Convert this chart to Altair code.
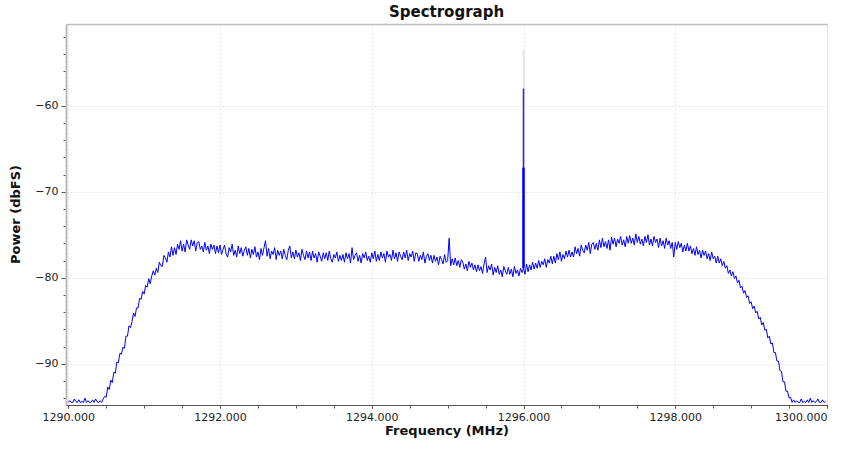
import altair as alt
import pandas as pd

# ---- data ----
F_START = 1290.0
F_STEP = 0.02
POWER = [
    -94.5, -94.3, -94.5, -94.5, -94.1, -94.4, -94.5, -94.2, -94.5, -94.4,
    -94.5, -94.0, -94.5, -94.3, -94.5, -94.5, -94.2, -94.5, -94.1, -94.4,
    -94.5, -94.3, -94.5, -94.1, -93.8, -93.9, -92.7, -93.0, -91.9, -92.2,
    -91.0, -91.1, -89.8, -89.9, -88.8, -88.9, -88.1, -88.2, -86.8, -86.8,
    -85.6, -85.8, -85.1, -84.1, -84.5, -83.5, -83.5, -82.4, -82.5, -81.6,
    -81.9, -80.9, -81.1, -80.1, -80.7, -79.8, -79.2, -79.7, -78.9, -79.4,
    -78.2, -78.6, -78.7, -77.4, -77.7, -78.2, -77.0, -77.6, -76.4, -77.4,
    -76.5, -77.3, -76.1, -76.7, -75.7, -76.9, -76.1, -77.0, -75.6, -76.2,
    -76.7, -75.6, -76.3, -75.7, -76.9, -75.9, -75.8, -76.7, -76.3, -77.0,
    -75.9, -76.8, -76.3, -77.2, -76.1, -76.7, -76.2, -77.2, -76.3, -77.1,
    -76.2, -77.3, -76.7, -76.2, -77.2, -77.6, -76.5, -77.0, -76.1, -77.4,
    -76.8, -77.6, -76.3, -77.2, -76.5, -77.5, -76.8, -76.4, -77.4, -76.6,
    -77.7, -76.7, -77.3, -76.4, -77.6, -77.0, -77.9, -76.6, -77.4, -76.5,
    -75.7, -77.5, -76.6, -77.8, -76.9, -77.3, -76.5, -77.9, -76.8, -77.4,
    -76.9, -77.8, -76.7, -77.4, -77.9, -76.8, -76.3, -77.7, -77.0, -77.8,
    -76.8, -77.6, -77.1, -78.0, -76.7, -77.4, -77.9, -76.9, -77.7, -77.0,
    -78.0, -76.9, -77.7, -77.2, -78.2, -77.0, -77.5, -78.1, -77.1, -77.8,
    -77.1, -78.0, -76.9, -77.8, -78.2, -77.3, -77.7, -77.0, -78.1, -77.4,
    -78.0, -77.3, -78.2, -77.1, -77.8, -77.2, -78.3, -76.5, -77.9, -77.4,
    -77.1, -78.1, -77.4, -78.3, -77.2, -77.7, -77.0, -78.0, -77.5, -78.2,
    -77.1, -77.8, -76.9, -78.1, -77.3, -78.0, -77.0, -77.7, -77.2, -78.2,
    -76.9, -77.6, -77.3, -78.0, -76.8, -77.8, -77.1, -78.1, -77.0, -77.5,
    -77.9, -77.0, -77.7, -76.8, -78.0, -77.2, -77.6, -76.9, -78.1, -77.1,
    -77.2, -78.1, -77.4, -77.9, -77.0, -78.3, -77.5, -77.2, -78.0, -77.4,
    -78.3, -77.4, -78.1, -77.6, -78.5, -77.5, -77.9, -78.4, -77.3, -78.2,
    -78.0, -75.4, -78.6, -77.8, -78.5, -77.7, -78.6, -78.0, -78.8, -77.9,
    -78.2, -79.0, -78.4, -79.2, -78.1, -78.8, -78.3, -79.1, -78.5, -79.3,
    -78.5, -79.2, -78.7, -79.5, -78.4, -77.6, -79.4, -78.6, -79.1, -78.4,
    -79.7, -78.8, -79.4, -78.6, -79.6, -79.1, -79.9, -78.7, -79.2, -79.6,
    -78.8, -79.6, -79.0, -79.9, -78.7, -79.5, -79.1, -79.8, -78.9, -79.4,
    -78.9, -79.6, -78.4, -79.3, -78.5, -79.1, -78.2, -79.0, -78.3, -78.9,
    -78.0, -78.8, -78.1, -78.5, -77.8, -78.8, -77.9, -78.3, -77.5, -78.4,
    -77.5, -78.3, -77.2, -77.9, -77.0, -78.1, -77.3, -77.8, -76.9, -77.6,
    -76.8, -77.6, -77.0, -77.6, -76.4, -77.2, -76.6, -77.5, -76.2, -76.8,
    -77.1, -76.2, -76.8, -75.9, -77.2, -76.1, -75.9, -76.7, -76.0, -76.8,
    -75.6, -76.5, -75.4, -76.4, -75.8, -76.6, -75.6, -76.8, -75.3, -76.1,
    -75.4, -76.4, -75.5, -76.0, -75.2, -76.2, -75.6, -76.4, -75.2, -76.0,
    -75.1, -76.0, -75.4, -76.2, -74.9, -75.9, -75.2, -76.1, -75.5, -76.3,
    -75.2, -75.9, -75.0, -76.2, -75.5, -76.3, -75.2, -75.9, -75.5, -76.5,
    -75.4, -76.3, -75.7, -76.6, -75.4, -76.2, -75.7, -76.6, -75.9, -77.6,
    -75.9, -76.7, -75.8, -76.5, -76.0, -77.0, -76.2, -76.9, -76.0, -76.9,
    -76.3, -77.2, -76.6, -77.4, -76.4, -77.3, -76.8, -77.7, -76.8, -77.4,
    -76.9, -77.8, -77.2, -78.0, -77.0, -77.8, -77.5, -78.3, -77.5, -78.3,
    -77.8, -78.6, -78.1, -78.9, -78.6, -79.5, -79.1, -79.8, -79.3, -80.1,
    -79.8, -80.6, -80.3, -81.2, -81.0, -81.8, -81.5, -82.3, -82.1, -83.0,
    -82.8, -83.6, -83.3, -84.1, -83.9, -84.8, -84.6, -85.5, -85.2, -86.1,
    -86.0, -87.0, -86.8, -87.7, -87.6, -88.7, -88.7, -89.7, -89.7, -90.8,
    -90.9, -92.1, -92.1, -93.2, -93.2, -94.0, -93.9, -94.5, -94.2, -94.5,
    -94.3, -94.5, -94.5, -94.1, -94.5, -94.4, -94.5, -94.2, -94.5, -94.0,
    -94.5, -94.3, -94.5, -94.4, -94.1, -94.5, -94.5, -94.2, -94.5, -94.4,
]
SPIKE_FREQ = 1296.0
SPIKE_BASE = -78.9
SPIKE_TOPS = [-53.5, -58.0, -67.2]

X_MAJOR = [1290, 1292, 1294, 1296, 1298, 1300]
X_MINOR = [1290 + 0.5 * k for k in range(21)]
Y_MAJOR = [-90, -80, -70, -60]
Y_MINOR = list(range(-94, -50, 2))

freqs = [round(F_START + F_STEP * i, 4) for i in range(len(POWER))]
df = pd.DataFrame({"f": freqs, "p": POWER})
spike = pd.DataFrame({"f": [SPIKE_FREQ] * 3, "lo": [SPIKE_BASE] * 3,
                      "hi": SPIKE_TOPS, "k": [0, 1, 2]})

FONT = "DejaVu Sans"
xs = alt.Scale(domain=[1289.97, 1300.0], nice=False, zero=False)
ys = alt.Scale(domain=[-94.8, -50.5], nice=False, zero=False)

# main layer with major axes, grid and labels
main = alt.Chart(df).mark_line(color="#0000ff", strokeWidth=1, clip=True).encode(
    x=alt.X("f:Q", scale=xs, axis=alt.Axis(
        orient="bottom", values=X_MAJOR, format=".3f", title="Frequency (MHz)",
        grid=True, gridColor="#e6e6e6", gridDash=[2, 2], gridWidth=1,
        domainColor="#555555", domainWidth=1, tickColor="#555555", tickSize=3,
        labelFont=FONT, labelFontSize=11, labelColor="#222222", labelPadding=3,
        titleFont=FONT, titleFontSize=13, titleFontWeight="bold", titleColor="#111111",
        titleY=19, titleBaseline="top")),
    y=alt.Y("p:Q", scale=ys, axis=alt.Axis(
        orient="left", values=Y_MAJOR, format="d", title="Power (dbFS)",
        grid=True, gridColor="#e6e6e6", gridDash=[2, 2], gridWidth=1,
        domainColor="#bdbdbd", domainWidth=2, tickColor="#555555", tickSize=5,
        labelFont=FONT, labelFontSize=11, labelColor="#222222", labelPadding=3,
        titleFont=FONT, titleFontSize=13, titleFontWeight="bold", titleColor="#111111",
        titleX=-44, titleY=190, titleBaseline="bottom")),
)

# minor ticks
minor = alt.Chart(df).mark_line(opacity=0).encode(
    x=alt.X("f:Q", scale=xs, axis=alt.Axis(
        orient="bottom", values=X_MINOR, labels=False, title=None, grid=False,
        domain=False, tickColor="#555555", tickSize=3)),
    y=alt.Y("p:Q", scale=ys, axis=alt.Axis(
        orient="left", values=Y_MINOR, labels=False, title=None, grid=False,
        domain=False, tickColor="#555555", tickSize=3)),
)

# top frame line
frame = alt.Chart(df).mark_line(opacity=0).encode(
    x=alt.X("f:Q", scale=xs, axis=alt.Axis(
        orient="top", labels=False, ticks=False, title=None, grid=False,
        domainColor="#bdbdbd", domainWidth=1.5)),
    y=alt.Y("p:Q", scale=ys, axis=None),
)

def spike_layer(k, width, opacity):
    return alt.Chart(spike).transform_filter(alt.datum.k == k).mark_rule(
        color="#0000ff", strokeWidth=width, opacity=opacity).encode(
        x=alt.X("f:Q", scale=xs, axis=None),
        y=alt.Y("lo:Q", scale=ys, axis=None),
        y2="hi:Q",
    )

chart = alt.layer(
    minor, frame, main,
    spike_layer(0, 1.5, 0.12),
    spike_layer(1, 1.5, 0.85),
    spike_layer(2, 2.5, 1.0),
).resolve_axis(x="independent", y="independent").properties(
    width=761, height=381,
    title=alt.TitleParams("Spectrograph", font=FONT, fontSize=15,
                          fontWeight="bold", anchor="middle", offset=4, color="#111111"),
    autosize=alt.AutoSizeParams(type="none"),
    padding={"left": 66, "top": 24, "right": 26, "bottom": 46},
).configure_view(stroke=None).configure(background="white")

chart.save("out.html", embed_options={"renderer": "svg", "actions": False})
